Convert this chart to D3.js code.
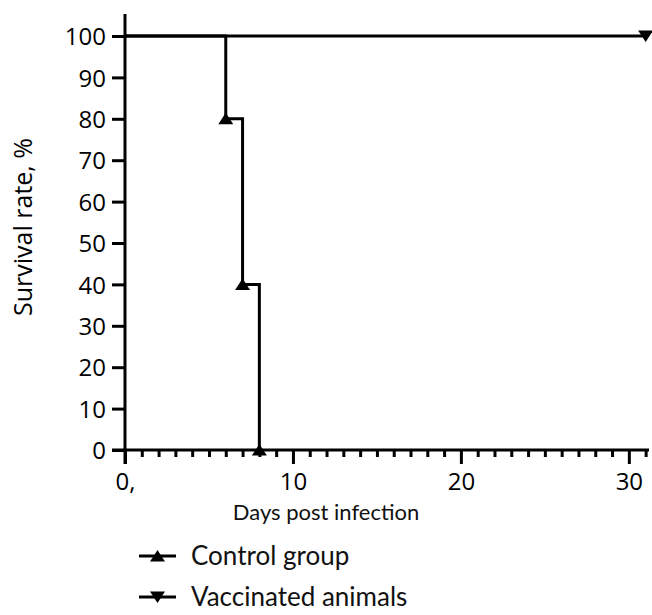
<!DOCTYPE html>
<html>
<head>
<meta charset="utf-8">
<script src="https://cdn.jsdelivr.net/npm/d3@7"></script>
<style>
  body { margin: 0; background: #fff; }
  svg { display: block; }
  .tick-label { font-family: "Open Sans", sans-serif; font-size: 24px; fill: #000; }
  .title { font-family: "Lato", sans-serif; font-size: 22px; fill: #111; }
</style>
</head>
<body>
<div id="chart"></div>
<script>
const width = 652
const height = 615

// survival curves (day, percent)
const controlDays = [0, 6, 7, 8]
const controlSurvival = [100, 80, 40, 0]
const vaccinatedDays = [0, 31]
const vaccinatedSurvival = [100, 100]

const yTicks = [0, 10, 20, 30, 40, 50, 60, 70, 80, 90, 100]
const xMajorTicks = [0, 10, 20, 30]
const xMajorLabels = ['0,', '10', '20', '30']
const legendNames = ['Control group', 'Vaccinated animals']

const x = d3.scaleLinear().domain([0, 31.2]).range([125, 649])
const y = d3.scaleLinear().domain([0, 100]).range([450, 36])

const svg = d3.select('#chart').append('svg')
    .attr('width', width)
    .attr('height', height)

const stroke = '#000'
const lw = 3

// y axis
const yAxis = svg.append('g')
    .attr('transform', `translate(${x(0)},0)`)
    .call(d3.axisLeft(y).tickValues(yTicks).tickSize(13).tickPadding(6).tickSizeOuter(0))
yAxis.select('.domain').remove()
yAxis.selectAll('.tick line').attr('stroke', stroke).attr('stroke-width', lw)
yAxis.selectAll('.tick text').attr('class', 'tick-label').attr('dy', '0.36em')
svg.append('line')
    .attr('x1', x(0)).attr('x2', x(0))
    .attr('y1', 14).attr('y2', y(0) + 14)
    .attr('stroke', stroke).attr('stroke-width', lw)

// x axis: minor ticks every day, major every 10
const minorTicks = d3.range(1, 32).filter(d => d % 10 !== 0)
const xAxisMinor = svg.append('g')
    .attr('transform', `translate(0,${y(0)})`)
    .call(d3.axisBottom(x).tickValues(minorTicks).tickSize(7).tickFormat(''))
xAxisMinor.select('.domain').remove()
xAxisMinor.selectAll('.tick line').attr('stroke', stroke).attr('stroke-width', lw)

const xAxisMajor = svg.append('g')
    .attr('transform', `translate(0,${y(0)})`)
    .call(d3.axisBottom(x).tickValues(xMajorTicks).tickSize(14).tickPadding(9)
        .tickFormat((d, i) => xMajorLabels[i]))
xAxisMajor.select('.domain').remove()
xAxisMajor.selectAll('.tick line').attr('stroke', stroke).attr('stroke-width', lw)
xAxisMajor.selectAll('.tick text').attr('class', 'tick-label')
svg.append('line')
    .attr('x1', x(0) - 13).attr('x2', x.range()[1])
    .attr('y1', y(0)).attr('y2', y(0))
    .attr('stroke', stroke).attr('stroke-width', lw)

// axis titles
svg.append('text')
    .attr('class', 'title')
    .attr('x', 326).attr('y', 520)
    .attr('text-anchor', 'middle')
    .text('Days post infection')
svg.append('text')
    .attr('class', 'tick-label')
    .attr('transform', 'translate(32,227) rotate(-90)')
    .attr('text-anchor', 'middle')
    .style('font-size', '25px')
    .text('Survival rate, %')

// curves
const stepLine = d3.line()
    .x(d => x(d[0]))
    .y(d => y(d[1]))
    .curve(d3.curveStepAfter)

const control = controlDays.map((d, i) => [d, controlSurvival[i]])
const vaccinated = vaccinatedDays.map((d, i) => [d, vaccinatedSurvival[i]])

svg.append('path')
    .datum(vaccinated)
    .attr('d', stepLine)
    .attr('fill', 'none')
    .attr('stroke', stroke)
    .attr('stroke-width', lw)
svg.append('path')
    .datum(control)
    .attr('d', stepLine)
    .attr('fill', 'none')
    .attr('stroke', stroke)
    .attr('stroke-width', lw)

const triUp = 'M0,-6L7.5,5.5L-7.5,5.5Z'
const triDown = 'M0,6L7.5,-5.5L-7.5,-5.5Z'

svg.selectAll('.m-control')
    .data(control.slice(1))
    .enter()
    .append('path')
    .attr('class', 'm-control')
    .attr('d', triUp)
    .attr('transform', d => `translate(${x(d[0])},${y(d[1])})`)
    .attr('fill', stroke)

svg.selectAll('.m-vacc')
    .data(vaccinated.slice(1))
    .enter()
    .append('path')
    .attr('class', 'm-vacc')
    .attr('d', triDown)
    .attr('transform', d => `translate(${x(d[0])},${y(d[1])})`)
    .attr('fill', stroke)

// legend
const legendElem = svg.append('g')
    .selectAll('g')
    .data(legendNames)
    .enter()
    .append('g')
    .attr('transform', (d, i) => `translate(139,${556 + i * 41})`)

legendElem.append('line')
    .attr('x1', 0).attr('x2', 37)
    .attr('stroke', stroke).attr('stroke-width', lw)
legendElem.append('path')
    .attr('d', (d, i) => i === 0 ? triUp : triDown)
    .attr('transform', 'translate(18.5,0)')
    .attr('fill', stroke)
legendElem.append('text')
    .attr('class', 'title')
    .attr('x', 52).attr('y', 0)
    .attr('dy', '0.36em')
    .style('font-size', '26px')
    .text(d => d)
</script>
</body>
</html>
